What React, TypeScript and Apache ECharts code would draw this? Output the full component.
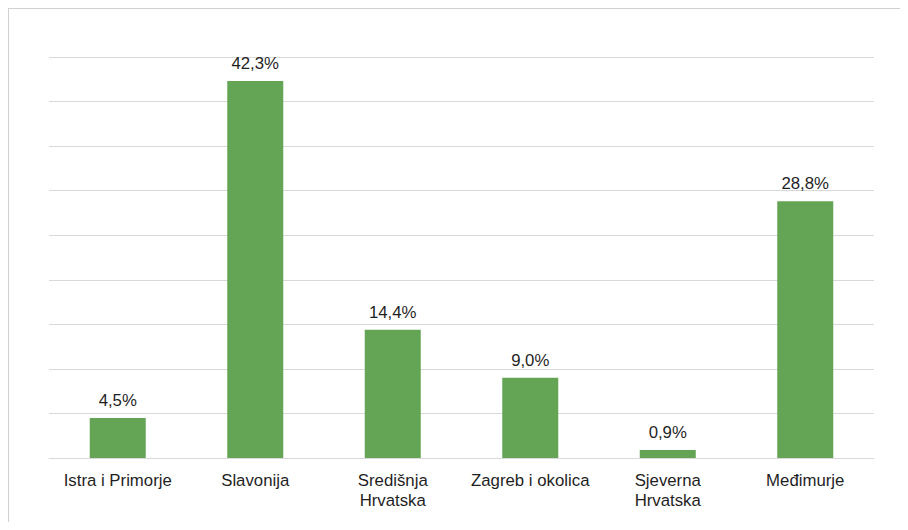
import React, { useEffect, useRef } from "react";
import * as echarts from "echarts";

const categories = [
  "Istra i Primorje",
  "Slavonija",
  "Središnja\nHrvatska",
  "Zagreb i okolica",
  "Sjeverna\nHrvatska",
  "Međimurje",
];
const values = [4.5, 42.3, 14.4, 9.0, 0.9, 28.8];

export default function App() {
  const ref = useRef<HTMLDivElement>(null);
  useEffect(() => {
    document.body.style.overflow = "hidden";
    const chart = echarts.init(ref.current!, null, { renderer: "svg" });
    const font = "'Liberation Sans', Arial, sans-serif";
    chart.setOption({
      animation: false,
      grid: { left: 40, top: 48, width: 825, height: 401, containLabel: false },
      xAxis: {
        type: "category",
        data: categories,
        axisLine: { show: true, lineStyle: { color: "#d9d9d9", width: 1 } },
        axisTick: { show: false },
        axisLabel: {
          interval: 0,
          color: "#1f1f1f",
          fontFamily: font,
          fontSize: 16.8,
          lineHeight: 20,
          margin: 12,
        },
      },
      yAxis: {
        type: "value",
        min: 0,
        max: 45,
        interval: 5,
        axisLabel: { show: false },
        axisLine: { show: false },
        axisTick: { show: false },
        splitLine: { lineStyle: { color: "#d9d9d9", width: 1 } },
      },
      series: [
        {
          type: "bar",
          data: values,
          barWidth: 56,
          itemStyle: { color: "#63a554" },
          label: {
            show: true,
            position: "top",
            distance: 9,
            color: "#1f1f1f",
            fontFamily: font,
            fontSize: 16.8,
            formatter: (p: any) => p.value.toFixed(1).replace(".", ",") + "%",
          },
        },
      ],
    });
    return () => chart.dispose();
  }, []);
  return (
    <div
      style={{
        width: 891,
        height: 513,
        borderTop: "1px solid #d0d0d0",
        borderLeft: "1px solid #d0d0d0",
      }}
    >
      <div ref={ref} style={{ width: 891, height: 513 }} />
    </div>
  );
}
